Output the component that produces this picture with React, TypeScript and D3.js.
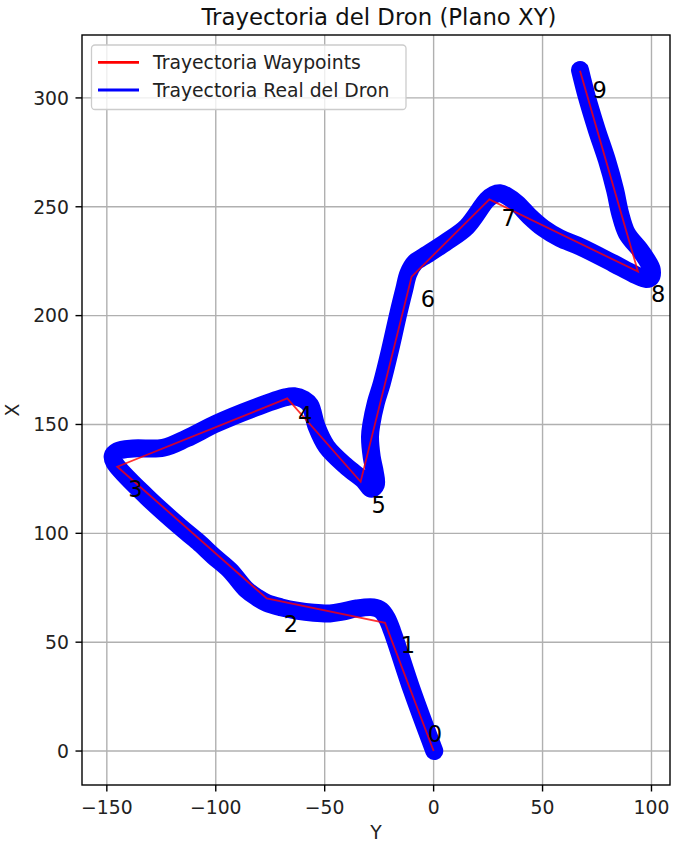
import React from "react";
import * as d3 from "d3";

// Planned waypoints (Y, X)
const waypointY = [0, -22.3, -76.6, -145.2, -67.2, -33.5, -10.1, 25.6, 93.8, 67.2];
const waypointX = [0, 58.9, 70.1, 130.6, 162.0, 123.7, 217.9, 253.4, 220.2, 312.5];

// Waypoint index labels (glyph centre Y, baseline X)
const labelText = ["0", "1", "2", "3", "4", "5", "6", "7", "8", "9"];
const labelY = [0.6, -11.8, -65.5, -136.9, -59.0, -25.2, -2.6, 34.5, 103.1, 76.2];
const labelX = [4.0, 45.1, 54.8, 116.8, 150.5, 109.2, 203.8, 241.2, 206.3, 299.8];

// Flown trajectory of the drone (Y, X)
const realY = [
  0.3, -10, -19, -21.5, -24, -27.7, -35.3, -42, -47.6, -55, -62.9, -70, -76.6, -81,
  -85.8, -93.5, -101, -108, -116.4, -131.7, -146.5, -147.3, -145, -137.9, -124.1,
  -113.4, -99.6, -82.8, -68, -64, -59.5, -56.7, -53.7, -49.1, -39.9, -32.3, -28.5,
  -26.5, -27, -28.4, -29.2, -28.6, -26.5, -23.8, -20, -16.2, -13.5, -11.6, -8.5, -4.7,
  6, 15.2, 24.4, 27.5, 30.5, 33.5, 38.2, 44, 50.4, 58, 67.2, 82.5, 92, 97.5, 99.6,
  100.1, 97.5, 94.8, 88.7, 85.6, 83.3, 79.5, 74.9, 70.3, 67.2,
];
const realX = [
  0, 28, 55, 61, 64.5, 66, 65.5, 64, 63.2, 63.5, 64.5, 66, 68, 70.5,
  74, 83, 89.5, 96, 103, 116.8, 132.5, 135.5, 137.8, 139, 139.3,
  143.6, 150.5, 157.4, 162.5, 163, 161.5, 158.9, 149, 139.8, 130.6, 124.5, 120.5,
  122.5, 128, 135, 144.4, 150, 160, 168.9, 184.2, 201, 212, 219.4, 224.5, 227,
  234, 240.8, 253.1, 255.5, 256.2, 255, 251.6, 245.6, 240.1, 235.5, 231.7, 224, 219, 216.8, 217.5,
  221.2, 226.2, 230.1, 237.8, 247, 257.7, 271.5, 285.3, 300.6, 312.8,
];

const xTicks = [-150, -100, -50, 0, 50, 100];
const yTicks = [0, 50, 100, 150, 200, 250, 300];

const seriesNames = ["Trayectoria Waypoints", "Trayectoria Real del Dron"];
const seriesColors = ["#ff0000", "#0000ff"];

const W = 680;
const H = 843;
const left = 82;
const right = 670;
const top = 35;
const bottom = 785;
const font = "'DejaVu Sans', sans-serif";
const baseSize = 18.8;

const fmt = (v: number) => (v < 0 ? "\u2212" + Math.abs(v) : String(v));

export default function App() {
  const x = d3.scaleLinear().domain([-161.4, 108.5]).range([left, right]);
  const y = d3.scaleLinear().domain([-15.6, 328.9]).range([bottom, top]);

  const line = d3
    .line<[number, number]>()
    .x((d) => x(d[0]))
    .y((d) => y(d[1]));

  const wpPts: [number, number][] = waypointY.map((v, i) => [v, waypointX[i]]);
  const realPts: [number, number][] = realY.map((v, i) => [v, realX[i]]);
  const smooth = d3
    .line<[number, number]>()
    .x((d) => x(d[0]))
    .y((d) => y(d[1]))
    .curve(d3.curveCatmullRom.alpha(0.5));

  return (
    <div style={{ position: "absolute", left: 0, top: 0 }}>
      <svg width={W} height={H} style={{ display: "block", background: "#fff" }} fontFamily={font}>
        <defs>
          <clipPath id="plotArea">
            <rect x={left} y={top} width={right - left} height={bottom - top} />
          </clipPath>
        </defs>
        <rect x={0} y={0} width={W} height={H} fill="#fff" />

        {/* grid */}
        {xTicks.map((t) => (
          <line key={"gx" + t} x1={x(t)} x2={x(t)} y1={top} y2={bottom} stroke="#b0b0b0" strokeWidth={1.4} />
        ))}
        {yTicks.map((t) => (
          <line key={"gy" + t} x1={left} x2={right} y1={y(t)} y2={y(t)} stroke="#b0b0b0" strokeWidth={1.4} />
        ))}

        <g clipPath="url(#plotArea)">
          {/* flown path */}
          <path
            d={smooth(realPts) || ""}
            fill="none"
            stroke={seriesColors[1]}
            strokeWidth={18}
            strokeLinecap="round"
            strokeLinejoin="round"
          />
          {/* planned path */}
          <path
            d={line(wpPts) || ""}
            fill="none"
            stroke={seriesColors[0]}
            strokeOpacity={0.8}
            strokeWidth={1.8}
            strokeLinejoin="miter"
          />
        </g>

        {/* waypoint labels */}
        {labelText.map((t, i) => (
          <text key={"lb" + i} x={x(labelY[i])} y={y(labelX[i])} fontSize={22.5} textAnchor="middle" fill="#000">
            {t}
          </text>
        ))}

        {/* spines */}
        <rect x={left} y={top} width={right - left} height={bottom - top} fill="none" stroke="#000" strokeWidth={1.4} />

        {/* x ticks */}
        {xTicks.map((t) => (
          <g key={"xt" + t}>
            <line x1={x(t)} x2={x(t)} y1={bottom} y2={bottom + 6.5} stroke="#000" strokeWidth={1.4} />
            <text x={x(t)} y={bottom + 29} fontSize={baseSize} textAnchor="middle" fill="#222">
              {fmt(t)}
            </text>
          </g>
        ))}
        {/* y ticks */}
        {yTicks.map((t) => (
          <g key={"yt" + t}>
            <line x1={left - 6.5} x2={left} y1={y(t)} y2={y(t)} stroke="#000" strokeWidth={1.4} />
            <text x={left - 13} y={y(t)} dy="0.36em" fontSize={baseSize} textAnchor="end" fill="#222">
              {fmt(t)}
            </text>
          </g>
        ))}

        {/* axis labels */}
        <text x={(left + right) / 2} y={839} fontSize={baseSize} textAnchor="middle" fill="#222">
          Y
        </text>
        <text
          transform={`translate(19, ${(top + bottom) / 2}) rotate(-90)`}
          fontSize={baseSize}
          textAnchor="middle"
          fill="#222"
        >
          X
        </text>

        {/* title */}
        <text x={(left + right) / 2 + 3} y={25} fontSize={22.8} textAnchor="middle" fill="#111">
          Trayectoria del Dron (Plano XY)
        </text>

        {/* legend */}
        <g>
          <rect x={91.5} y={45} width={314.5} height={64.5} rx={3.5} fill="#fff" fillOpacity={0.8} stroke="#cccccc" strokeWidth={1.3} />
          {seriesNames.map((name, i) => (
            <g key={name}>
              <line x1={98} x2={139} y1={62.3 + i * 27.7} y2={62.3 + i * 27.7} stroke={seriesColors[i]} strokeWidth={2.8} />
              <text x={153} y={69 + i * 27.7} fontSize={baseSize} fill="#222">
                {name}
              </text>
            </g>
          ))}
        </g>
      </svg>
    </div>
  );
}
